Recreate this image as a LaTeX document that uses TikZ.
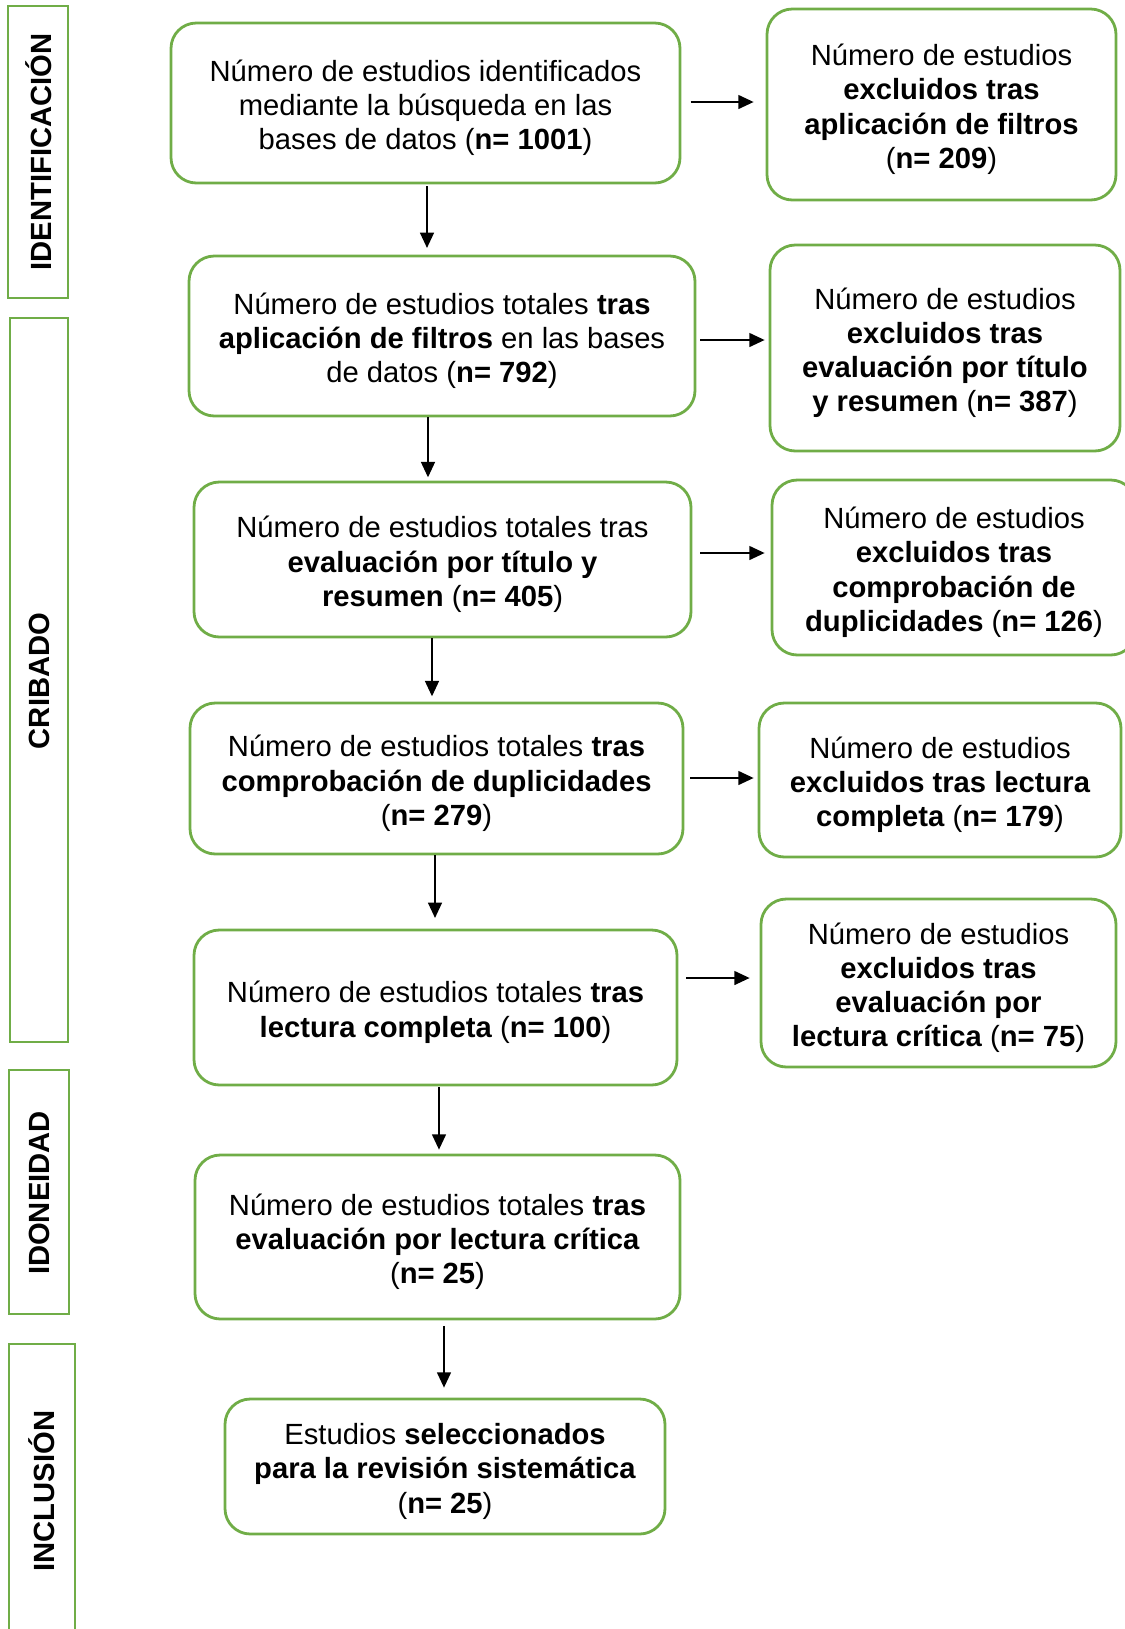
\documentclass[tikz,border=0pt]{standalone}
\usepackage{fontspec}
\setmainfont{Liberation Sans}
\usetikzlibrary{arrows.meta}
\definecolor{frame}{HTML}{70AD47}
\tikzset{
  box/.style={draw=frame, line width=2.1pt, rounded corners=19pt, inner sep=0pt},
  boxtext/.style={align=center, inner sep=0pt, font=\fontsize{21.9}{25.7}\selectfont},
  band/.style={draw=frame, line width=2.1pt},
  bandlabel/.style={rotate=90, font=\fontsize{21.9}{25.7}\selectfont\bfseries, inner sep=0pt},
  arr/.style={line width=1.1pt, -{Triangle[length=11.5pt,width=10.5pt]}}
}
\newcommand{\tshift}{-3.6pt}
\begin{document}
\begin{tikzpicture}[x=0.75pt,y=-0.75pt]
\useasboundingbox (0,0) rectangle (1125,1629);
% side bands
\draw[band] (8,6) rectangle (68,298);
\draw[band] (10,318) rectangle (68,1042);
\draw[band] (9,1070) rectangle (69,1314);
\draw[band] (9,1344) rectangle (75,1650);
\node[bandlabel] (L1) at (39,152) {IDENTIFICACIÓN};
\node[bandlabel] (L2) at (39,681) {CRIBADO};
\node[bandlabel] (L3) at (39,1193) {IDONEIDAD};
\node[bandlabel] (L4) at (42,1491) {INCLUSIÓN};
% main column
\node[box, minimum width=509*0.75pt, minimum height=160*0.75pt] (B1) at (425.5,103) {};
\node[boxtext] (B1t) at ([yshift=\tshift]B1.center)
  {Número de estudios identificados\\mediante la búsqueda en las\\bases de datos (\textbf{n= 1001})};
\node[box, minimum width=506*0.75pt, minimum height=160*0.75pt] (B2) at (442,336) {};
\node[boxtext] (B2t) at ([yshift=\tshift]B2.center)
  {Número de estudios totales \textbf{tras}\\\textbf{aplicación de filtros} en las bases\\de datos (\textbf{n= 792})};
\node[box, minimum width=497*0.75pt, minimum height=155*0.75pt] (B3) at (442.5,559.5) {};
\node[boxtext] (B3t) at ([yshift=\tshift]B3.center)
  {Número de estudios totales tras\\\textbf{evaluación por título y}\\\textbf{resumen} (\textbf{n= 405})};
\node[box, minimum width=493*0.75pt, minimum height=151*0.75pt] (B4) at (436.5,778.5) {};
\node[boxtext] (B4t) at ([yshift=\tshift]B4.center)
  {Número de estudios totales \textbf{tras}\\\textbf{comprobación de duplicidades}\\(\textbf{n= 279})};
\node[box, minimum width=483*0.75pt, minimum height=155*0.75pt] (B5) at (435.5,1007.5) {};
\node[boxtext] (B5t) at ([yshift=\tshift]B5.center)
  {Número de estudios totales \textbf{tras}\\\textbf{lectura completa} (\textbf{n= 100})};
\node[box, minimum width=485*0.75pt, minimum height=164*0.75pt] (B6) at (437.5,1237) {};
\node[boxtext] (B6t) at ([yshift=\tshift]B6.center)
  {Número de estudios totales \textbf{tras}\\\textbf{evaluación por lectura crítica}\\(\textbf{n= 25})};
\node[box, minimum width=440*0.75pt, minimum height=135*0.75pt] (B7) at (445,1466.5) {};
\node[boxtext] (B7t) at ([yshift=\tshift]B7.center)
  {Estudios \textbf{seleccionados}\\\textbf{para la revisión sistemática}\\(\textbf{n= 25})};
% right column
\node[box, minimum width=349*0.75pt, minimum height=191*0.75pt] (R1) at (941.5,104.5) {};
\node[boxtext] (R1t) at ([yshift=\tshift]R1.center)
  {Número de estudios\\\textbf{excluidos tras}\\\textbf{aplicación de filtros}\\(\textbf{n= 209})};
\node[box, minimum width=350*0.75pt, minimum height=206*0.75pt] (R2) at (945,348) {};
\node[boxtext] (R2t) at ([yshift=\tshift]R2.center)
  {Número de estudios\\\textbf{excluidos tras}\\\textbf{evaluación por título}\\\textbf{y resumen} (\textbf{n= 387})};
\node[box, minimum width=364*0.75pt, minimum height=175*0.75pt] (R3) at (954,567.5) {};
\node[boxtext] (R3t) at ([yshift=\tshift]R3.center)
  {Número de estudios\\\textbf{excluidos tras}\\\textbf{comprobación de}\\\textbf{duplicidades} (\textbf{n= 126})};
\node[box, minimum width=362*0.75pt, minimum height=154*0.75pt] (R4) at (940,780) {};
\node[boxtext] (R4t) at ([yshift=\tshift]R4.center)
  {Número de estudios\\\textbf{excluidos tras lectura}\\\textbf{completa} (\textbf{n= 179})};
\node[box, minimum width=355*0.75pt, minimum height=168*0.75pt] (R5) at (938.5,983) {};
\node[boxtext] (R5t) at ([yshift=\tshift]R5.center)
  {Número de estudios\\\textbf{excluidos tras}\\\textbf{evaluación por}\\\textbf{lectura crítica} (\textbf{n= 75})};
% vertical arrows
\draw[arr, shorten <=1.5pt, shorten >=5pt] (B1.south -| 427,0) -- (B2.north -| 427,0);
\draw[arr, shorten <=0pt, shorten >=2.5pt] (B2.south -| 428,0) -- (B3.north -| 428,0);
\draw[arr, shorten <=0pt, shorten >=4pt] (B3.south -| 432,0) -- (B4.north -| 432,0);
\draw[arr, shorten <=0pt, shorten >=8pt] (B4.south -| 435,0) -- (B5.north -| 435,0);
\draw[arr, shorten <=0.5pt, shorten >=3pt] (B5.south -| 439,0) -- (B6.north -| 439,0);
\draw[arr, shorten <=4pt, shorten >=7.5pt] (B6.south -| 444,0) -- (B7.north -| 444,0);
% horizontal arrows
\draw[arr, shorten <=7pt, shorten >=9pt] (B1.east |- 0,102) -- (R1.west |- 0,102);
\draw[arr, shorten <=3pt, shorten >=3pt] (B2.east |- 0,340) -- (R2.west |- 0,340);
\draw[arr, shorten <=6pt, shorten >=4.5pt] (B3.east |- 0,553) -- (R3.west |- 0,553);
\draw[arr, shorten <=4.5pt, shorten >=3pt] (B4.east |- 0,778) -- (R4.west |- 0,778);
\draw[arr, shorten <=6pt, shorten >=7.5pt] (B5.east |- 0,978) -- (R5.west |- 0,978);
\end{tikzpicture}
\end{document}
